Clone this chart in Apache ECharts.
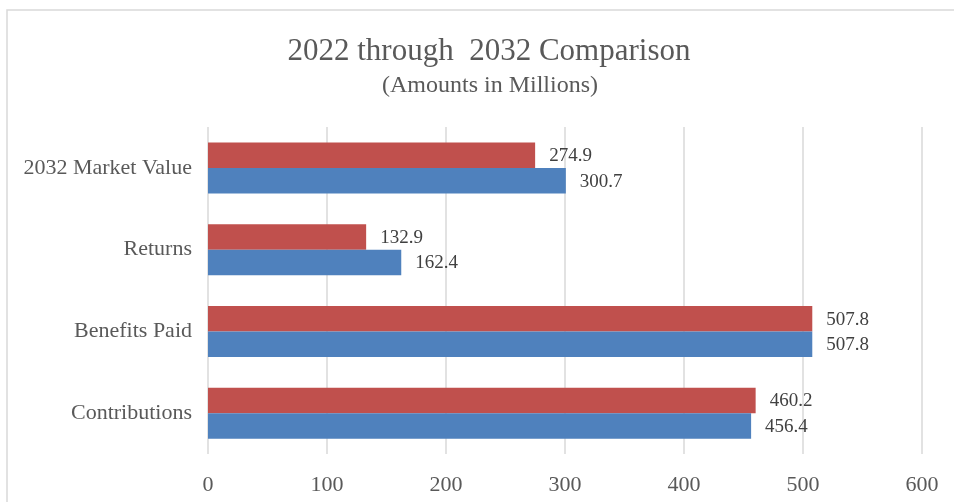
<!DOCTYPE html>
<html>
<head>
<meta charset="utf-8">
<script src="https://cdn.jsdelivr.net/npm/echarts@6/dist/echarts.min.js"></script>
<style>
  html, body { margin: 0; padding: 0; background: #ffffff; }
  #chart { width: 954px; height: 502px; }
</style>
</head>
<body>
<div id="chart"></div>
<script>
// Categories listed bottom to top on the vertical axis
const categories = ['Contributions', 'Benefits Paid', 'Returns', '2032 Market Value'];
// Blue bars (lower bar in each pair)
const blueValues = [456.4, 507.8, 162.4, 300.7];
// Red bars (upper bar in each pair)
const redValues = [460.2, 507.8, 132.9, 274.9];
// Value axis ticks
const xTicks = [0, 100, 200, 300, 400, 500, 600];

const serif = '"Liberation Serif", "Times New Roman", serif';
const textGrey = '#595959';

const chart = echarts.init(document.getElementById('chart'), null, { renderer: 'canvas' });

const valueLabel = {
  show: true,
  position: 'right',
  distance: 14,
  offset: [0, 1],
  fontFamily: serif,
  fontSize: 19,
  color: '#404040',
  formatter: p => p.value.toFixed(1)
};

chart.setOption({
  backgroundColor: '#ffffff',
  animation: false,
  title: [
    {
      text: '2022 through  2032 Comparison',
      left: 484,
      top: 31,
      textAlign: 'center',
      textStyle: { fontFamily: serif, fontSize: 31, fontWeight: 'normal', color: textGrey }
    },
    {
      text: '(Amounts in Millions)',
      left: 485,
      top: 69,
      textAlign: 'center',
      textStyle: { fontFamily: serif, fontSize: 24, fontWeight: 'normal', color: textGrey }
    }
  ],
  graphic: [
    {
      type: 'rect',
      silent: true,
      z: -1,
      shape: { x: 7, y: 10, width: 980, height: 600 },
      style: { fill: 'none', stroke: '#d9d9d9', lineWidth: 1.5 }
    }
  ],
  grid: { left: 208, right: 32, top: 127, bottom: 48, containLabel: false },
  xAxis: {
    type: 'value',
    min: xTicks[0],
    max: xTicks[xTicks.length - 1],
    interval: 100,
    axisLine: { show: false },
    axisTick: { show: false },
    splitLine: { show: true, lineStyle: { color: '#d9d9d9', width: 1.5 } },
    axisLabel: { margin: 20, fontFamily: serif, fontSize: 22, color: textGrey }
  },
  yAxis: {
    type: 'category',
    data: categories,
    axisLine: { show: false },
    axisTick: { show: false },
    axisLabel: { margin: 16, fontFamily: serif, fontSize: 22, color: textGrey }
  },
  series: [
    {
      name: 'red',
      type: 'bar',
      data: redValues,
      barWidth: 25.5,
      barGap: '0%',
      itemStyle: { color: '#c0504d' },
      label: valueLabel
    },
    {
      name: 'blue',
      type: 'bar',
      data: blueValues,
      barWidth: 25.5,
      barGap: '0%',
      itemStyle: { color: '#4f81bd' },
      label: valueLabel
    }
  ]
});
</script>
</body>
</html>
